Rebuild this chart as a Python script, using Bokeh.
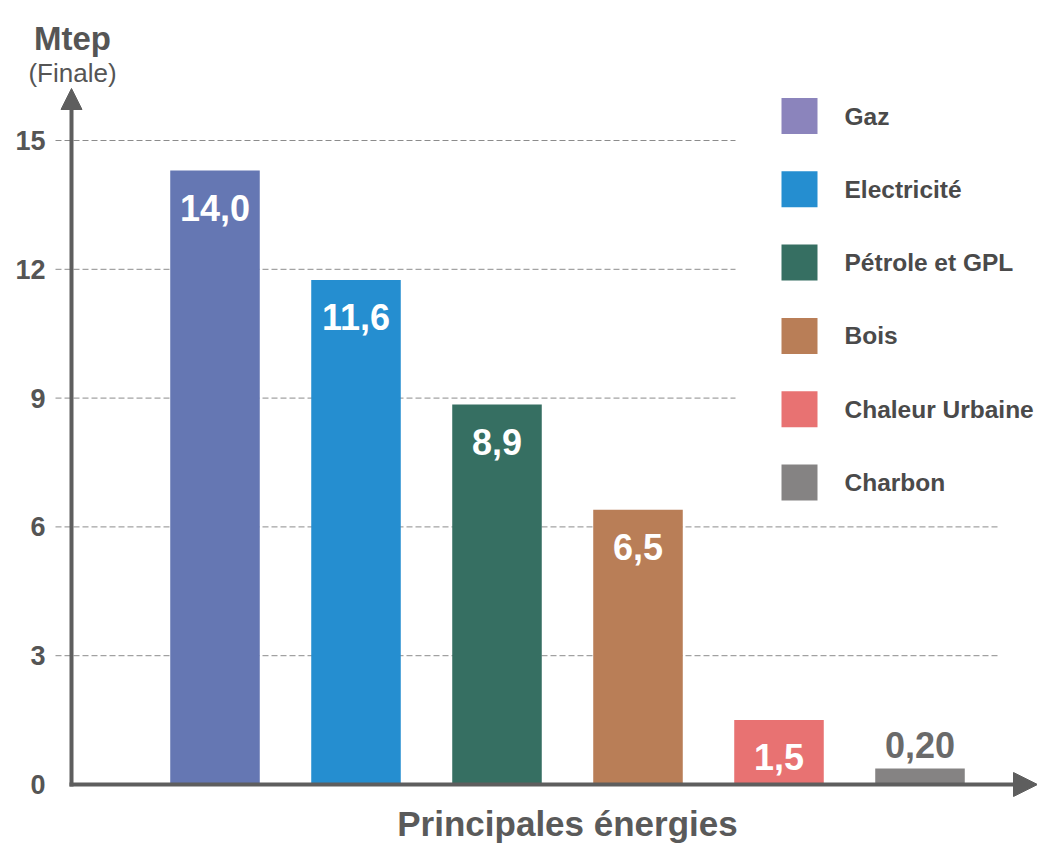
from bokeh.plotting import figure
from bokeh.models import Range1d, Arrow, NormalHead, ColumnDataSource
from bokeh.core.properties import value
from bokeh.embed import file_html
from bokeh.resources import INLINE

# ---- data ----
categories = ["Gaz", "Electricité", "Pétrole et GPL", "Bois", "Chaleur Urbaine", "Charbon"]
heights = [14.3, 11.75, 8.85, 6.4, 1.5, 0.37]
value_labels = ["14,0", "11,6", "8,9", "6,5", "1,5", "0,20"]
bar_colors = ["#6577B3", "#258ED0", "#366F62", "#B97E57", "#E87272", "#858383"]
legend_colors = ["#8B84BC", "#258ED0", "#366F62", "#B97E57", "#E87272", "#858383"]
y_ticks = [0, 3, 6, 9, 12, 15]
y_tick_labels = ["0", "3", "6", "9", "12", "15"]
grid_ticks = [3, 6, 9, 12, 15]
y_title = "Mtep"
y_subtitle = "(Finale)"
x_title = "Principales énergies"

# ---- layout helpers (pixel -> data) ----
W, H = 1037, 846
X0PX, DXPX = 214.5, 141.0               # first bar center, spacing
Y0PX, KPX = 784.0, 644.0 / 15.0         # y=0 px, px per unit


def xd(px):
    return (px - X0PX) / DXPX


def yd(py):
    return (Y0PX - py) / KPX


GREY = "#5e5e5e"
TXT = "#555555"
FONT = value("Liberation Sans")

p = figure(width=W, height=H, output_backend="svg", toolbar_location=None,
           x_range=Range1d(xd(0), xd(W)), y_range=Range1d(yd(H), yd(0)),
           min_border=0)
p.outline_line_color = None
p.background_fill_color = "white"
p.border_fill_color = "white"
p.axis.visible = False
p.grid.visible = False

# dashed grid lines (short ones stop at the legend)
gx1 = [xd(735) if t > 7 else xd(1000) for t in grid_ticks]
p.segment(x0=[xd(55)] * len(grid_ticks), y0=grid_ticks, x1=gx1, y1=grid_ticks,
          line_color="#8c8c8c", line_dash="6 3", line_width=1)

# y tick labels
p.text(x=[xd(45)] * len(y_ticks), y=y_ticks, text=y_tick_labels, text_color=TXT,
       text_font=FONT, text_font_style="bold", text_font_size="27px",
       text_align="right", text_baseline="middle")

# bars
xs = list(range(len(categories)))
src = ColumnDataSource(dict(x=xs, top=heights, color=bar_colors, cat=categories))
p.vbar(x="x", top="top", width=0.635, fill_color="color", line_color=None, source=src)

# value labels
inside = [h >= 1 for h in heights]
lab_src = ColumnDataSource(dict(
    x=xs, y=heights, text=value_labels,
    color=["white" if i else "#6a6a6a" for i in inside],
    off=[37 if i else -24 for i in inside],
))
p.text(x="x", y="y", text="text", y_offset="off", text_color="color", source=lab_src,
       text_font=FONT, text_font_style="bold",
       text_font_size="36px", text_align="center", text_baseline="middle")

# legend
ly = [yd(115.5 + 73.3 * i) for i in range(len(categories))]
p.scatter(x=[xd(799)] * len(categories), y=ly, marker="square", size=36,
          fill_color=legend_colors, line_color=None)
p.text(x=[xd(844)] * len(categories), y=ly, text=categories, text_color="#4a4a4a",
       text_font=FONT, text_font_style="bold",
       text_font_size="24.5px", text_align="left", text_baseline="middle")

# axis arrows
p.add_layout(Arrow(end=NormalHead(size=21, fill_color=GREY, line_color=GREY),
                   x_start=xd(71), y_start=yd(786), x_end=xd(71), y_end=yd(88),
                   line_width=4, line_color=GREY))
p.add_layout(Arrow(end=NormalHead(size=24, fill_color=GREY, line_color=GREY),
                   x_start=xd(69), y_start=0, x_end=xd(1037), y_end=0,
                   line_width=4, line_color=GREY))

# titles
p.text(x=[xd(72)], y=[yd(38)], text=[y_title], text_align="center",
       text_baseline="alphabetic", text_font=FONT,
       text_font_style="bold", text_font_size="33px", text_color=TXT)
p.text(x=[xd(72)], y=[yd(72)], text=[y_subtitle], text_align="center",
       text_baseline="alphabetic", text_font=FONT,
       text_font_size="26px", text_color=TXT)
p.text(x=[xd(567)], y=[yd(823)], text=[x_title], text_align="center",
       text_baseline="alphabetic", text_font=FONT,
       text_font_style="bold", text_font_size="35px", text_color="#5a5a5a")

open("out.html", "w").write(file_html(p, INLINE))
